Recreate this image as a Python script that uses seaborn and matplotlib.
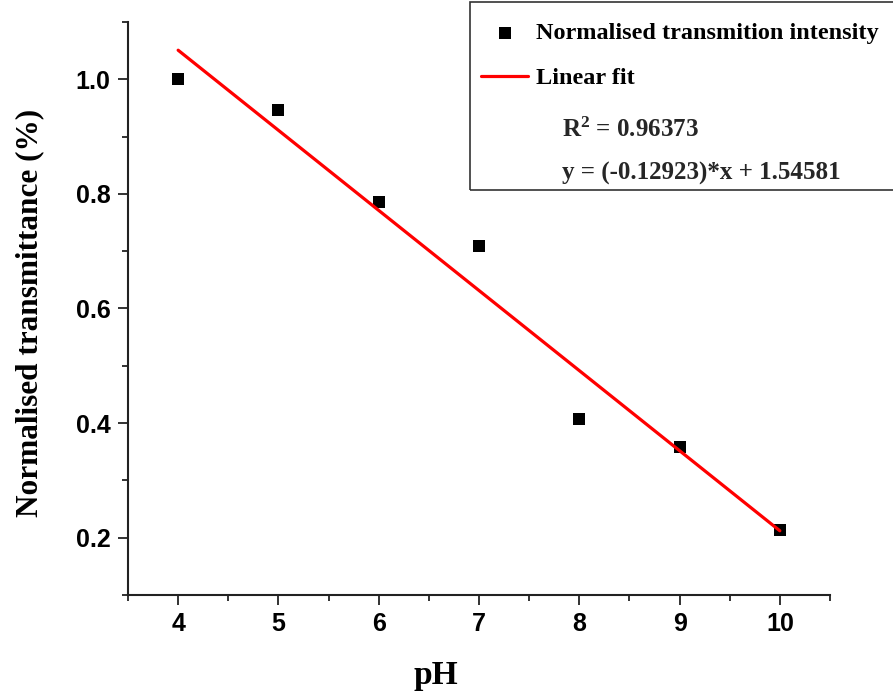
import numpy as np
import pandas as pd
import matplotlib
matplotlib.use("Agg")
import matplotlib.pyplot as plt
import seaborn as sns
from matplotlib.patches import Rectangle
from matplotlib.ticker import MultipleLocator

# ---- data ----
ph = [4, 5, 6, 7, 8, 9, 10]
transmittance = [1.000, 0.947, 0.785, 0.709, 0.407, 0.358, 0.214]
x_ticks = [4, 5, 6, 7, 8, 9, 10]
y_ticks = [0.2, 0.4, 0.6, 0.8, 1.0]
series_label = "Normalised transmition intensity"
fit_label = "Linear fit"
r2_text = "0.96373"
eq_text = "y = (-0.12923)*x + 1.54581"

df = pd.DataFrame({"pH": ph, "T": transmittance})

sns.set_theme(style="white")
plt.rcParams["font.family"] = ["Liberation Sans", "DejaVu Sans"]
plt.rcParams["mathtext.fontset"] = "custom"
plt.rcParams["mathtext.rm"] = "Liberation Serif:bold"
plt.rcParams["mathtext.bf"] = "Liberation Serif:bold"

fig = plt.figure(figsize=(8.93, 6.95), dpi=100)
ax = fig.add_axes([128/893, 1-595/695, 702/893, 573/695])

# linear fit line (computed from the data)
coef = np.polyfit(df["pH"], df["T"], 1)
fit_df = pd.DataFrame({"pH": [min(ph), max(ph)]})
fit_df["T"] = np.polyval(coef, fit_df["pH"])

sns.lineplot(data=fit_df, x="pH", y="T", ax=ax, color="#ff0000", lw=2.3,
             label=fit_label, zorder=3)
sns.scatterplot(data=df, x="pH", y="T", ax=ax, marker="s", s=80, color="black",
                edgecolor="black", linewidth=0, label=series_label, zorder=2)

ax.set_xlim(3.5, 10.5)
ax.set_ylim(0.1, 1.1)
ax.set_xticks(x_ticks)
ax.set_yticks(y_ticks)
ax.xaxis.set_minor_locator(MultipleLocator(0.5))
ax.yaxis.set_minor_locator(MultipleLocator(0.1))
ax.set_xticklabels([str(v) for v in x_ticks])
ax.set_yticklabels([f"{v:.1f}" for v in y_ticks])

for side in ["top", "right"]:
    ax.spines[side].set_visible(False)
for side in ["left", "bottom"]:
    ax.spines[side].set_linewidth(1.5)
    ax.spines[side].set_color("#222222")

ax.tick_params(which="major", direction="out", length=7.5, width=1.3,
               color="#222222", pad=5, labelsize=18, bottom=True, left=True)
ax.tick_params(which="minor", direction="out", length=4.5, width=1.3,
               color="#222222", bottom=True, left=True)
for lab in ax.get_xticklabels() + ax.get_yticklabels():
    lab.set_fontweight("bold")
    lab.set_color("black")

serif = ["Liberation Serif", "DejaVu Serif"]
ax.set_xlabel("pH", fontsize=24, fontweight="bold", family=serif, color="black")
ax.set_ylabel("Normalised transmittance (%)", fontsize=22.5, fontweight="bold",
              family=serif, color="black")
ax.xaxis.set_label_coords((436-128)/702, (595-660)/573)
ax.yaxis.set_label_coords((44-128)/702, (595-313)/573)

# legend
handles, labels = ax.get_legend_handles_labels()
order = [labels.index(series_label), labels.index(fit_label)]
ax.get_legend().remove()
leg = fig.legend([handles[i] for i in order], [labels[i] for i in order],
                 loc="upper left", bbox_to_anchor=(481/893, 1-22/695),
                 frameon=False, borderpad=0, borderaxespad=0,
                 handlelength=1.95, handletextpad=0.3, labelspacing=0.95,
                 prop={"family": serif, "weight": "bold", "size": 17.5})
for t in leg.get_texts():
    t.set_color("black")

fig.add_artist(Rectangle((470/893, 1-190/695), 0.6, 188/695,
                         transform=fig.transFigure, fill=False,
                         edgecolor="#333333", lw=1.2))
fig.text(562/893, 1-130/695, r"$\mathbf{R^2}$ = " + r2_text, fontsize=18,
         fontweight="bold", family=serif, va="center", ha="left")
fig.text(562/893, 1-173/695, eq_text, fontsize=18,
         fontweight="bold", family=serif, va="center", ha="left")

fig.savefig("out.png", dpi=100)
